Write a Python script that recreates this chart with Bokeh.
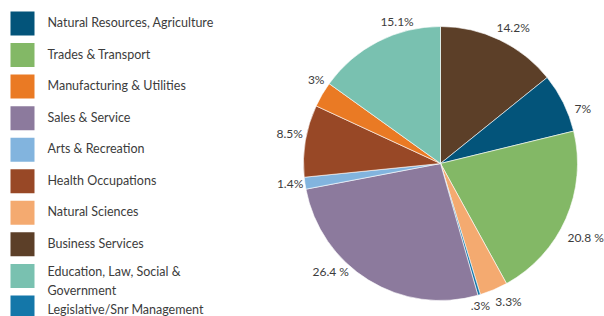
import math
from bokeh.plotting import figure
from bokeh.models import Range1d, ColumnDataSource
from bokeh.core.properties import value
from bokeh.embed import file_html
from bokeh.resources import INLINE

# ---- data (clockwise from 12 o'clock) ----
slice_names = ["Business Services", "Natural Resources, Agriculture", "Trades & Transport",
               "Natural Sciences", "Legislative/Snr Management", "Sales & Service",
               "Arts & Recreation", "Health Occupations", "Manufacturing & Utilities",
               "Education, Law, Social & Government"]
slice_values = [14.2, 7.0, 20.8, 3.3, 0.3, 26.4, 1.4, 8.5, 3.0, 15.1]
slice_labels = ["14.2%", "7%", "20.8 %", "3.3%", ".3%", "26.4 %", "1.4%", "8.5%", "3%", "15.1%"]
slice_colors = ["#5C3F28", "#03547A", "#83B866", "#F4AA70", "#1477A9", "#8C7A9D",
                "#82B4DE", "#984826", "#EA7A24", "#79C1B0"]

legend_names = ["Natural Resources, Agriculture", "Trades & Transport", "Manufacturing & Utilities",
                "Sales & Service", "Arts & Recreation", "Health Occupations", "Natural Sciences",
                "Business Services", "Education, Law, Social &\nGovernment", "Legislative/Snr Management"]
legend_colors = ["#03547A", "#83B866", "#EA7A24", "#8C7A9D", "#82B4DE", "#984826",
                 "#F4AA70", "#5C3F28", "#79C1B0", "#1477A9"]

# label nudges (pixels, screen orientation: +x right, +y down)
label_dx = [7, 6, 6, 9, -3, -30, 0, -1, 7, 26]
label_dy = [1, 12, 13, -2, -4, -21, -2, -5, -7, -7]
legend_text_dy = [1, 1, 1, 1, 1, 1, 1, 1, -5, -2]

W, H = 604, 316
cx, cy, R = 440, H - 163, 137      # figure pixel coords, y up
LR = 152

p = figure(width=W, height=H, output_backend="svg", toolbar_location=None,
           x_range=Range1d(0, W), y_range=Range1d(0, H), min_border=0)
p.axis.visible = False
p.grid.visible = False
p.outline_line_color = None
p.background_fill_color = "white"
p.border_fill_color = "white"

total = sum(slice_values)
starts, ends, lx, ly = [], [], [], []
cum = 0.0
for v, dx, dy in zip(slice_values, label_dx, label_dy):
    a0 = cum / total
    cum += v
    a1 = cum / total
    starts.append(math.pi / 2 - a1 * 2 * math.pi)
    ends.append(math.pi / 2 - a0 * 2 * math.pi)
    mid = (a0 + a1) / 2 * 2 * math.pi
    lx.append(cx + LR * math.sin(mid) + dx)
    ly.append(cy + LR * math.cos(mid) - dy)

src = ColumnDataSource(dict(start=starts, end=ends, color=slice_colors, name=slice_names,
                            lx=lx, ly=ly, lab=slice_labels))
p.wedge(x=cx, y=cy, radius=R, start_angle="start", end_angle="end",
        fill_color="color", line_color="white", line_width=0.6, source=src)
p.text(x="lx", y="ly", text="lab", source=src, text_align="center", text_baseline="middle",
       text_font=value("Lato"), text_font_size="12px", text_color="#3C3C3C")

# legend
top, step = 23, 31.55
leg_y = [H - (top + i * step) for i in range(len(legend_names))]
leg_ty = [y + d for y, d in zip(leg_y, legend_text_dy)]
leg_src = ColumnDataSource(dict(y=leg_y, ty=leg_ty, c=legend_colors, t=legend_names))
p.rect(x=22, y="y", width=24, height=24, fill_color="c", line_color=None, source=leg_src)
p.text(x=47, y="ty", text="t", source=leg_src, text_align="left", text_baseline="middle",
       text_font=value("Lato"), text_font_size="12.5px", text_color="#3C3C3C",
       text_line_height=1.3)

open("out.html", "w").write(file_html(p, INLINE))
